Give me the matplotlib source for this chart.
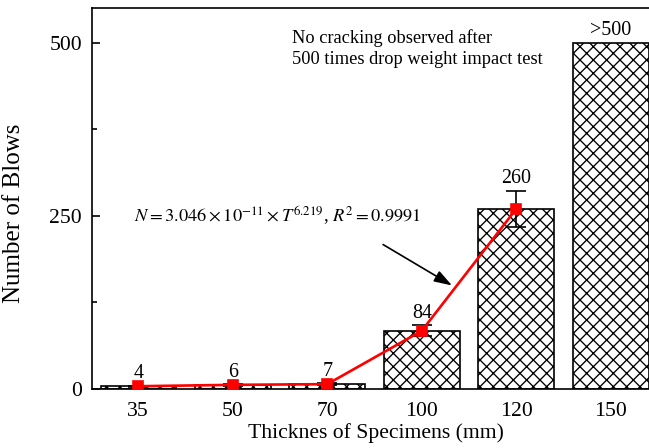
import matplotlib
matplotlib.use("Agg")
import matplotlib.pyplot as plt
import numpy as np

# data
thickness = ["35", "50", "70", "100", "120", "150"]
blows = [4, 6, 7, 84, 260, 500]
blow_err = [1, 1, 1, 8, 26, 0]
bar_labels = ["4", "6", "7", "84", "260", ">500"]
fit_idx = [0, 1, 2, 3, 4]   # red line only through cracked specimens

plt.rcParams["font.family"] = ["Liberation Serif", "DejaVu Serif"]
plt.rcParams["mathtext.fontset"] = "stix"
plt.rcParams["hatch.linewidth"] = 0.8

DPI = 120
fig = plt.figure(figsize=(649 / DPI, 448 / DPI), dpi=DPI)
ax = fig.add_axes([92 / 649, 59 / 448, 566 / 649, 381 / 448])

x = np.arange(len(thickness))
ax.bar(x, blows, width=0.8, color="white", edgecolor="black", linewidth=1.0,
       hatch="xxx", zorder=2)
ax.errorbar(x[:5], blows[:5], yerr=blow_err[:5], fmt="none", ecolor="black",
            elinewidth=1.0, capsize=6, capthick=1.0, zorder=3)

ax.plot(x[fit_idx], [blows[i] for i in fit_idx], color="red", lw=1.6,
        marker="s", markersize=6, zorder=4)

for xi, v, e, lab in zip(x, blows, blow_err, bar_labels):
    ax.annotate(lab, (xi, v + e), xytext=(0, 1.5), textcoords="offset points",
                ha="center", va="bottom", fontsize=12)

ax.text(1.63, 507, "No cracking observed after", fontsize=11, ha="left", va="center")
ax.text(1.63, 476, "500 times drop weight impact test", fontsize=11, ha="left", va="center")

ax.annotate("", xy=(3.35, 147), xytext=(2.56, 211),
            arrowprops=dict(arrowstyle="-|>,head_length=0.9,head_width=0.3",
                            color="black", lw=1.0))
ax.text(1.47, 251, r"$N = 3.046\times10^{-11}\times T^{6.219}$, $R^2 = 0.9991$",
        fontsize=11, ha="center", va="center")

ax.set_xlim(-0.49, 5.5)
ax.set_ylim(0, 550)
ax.set_xticks(x)
ax.set_xticklabels(thickness)
ax.set_yticks([0, 250, 500])
ax.set_yticks([125, 375], minor=True)
ax.tick_params(axis="y", which="major", direction="in", length=5, width=1, pad=6, labelsize=13)
ax.tick_params(axis="y", which="minor", direction="in", length=3, width=1)
ax.tick_params(axis="x", length=0, pad=8, labelsize=13)
for s in ax.spines.values():
    s.set_linewidth(1.0)

ax.set_ylabel("Number of Blows", fontsize=15)
ax.yaxis.set_label_coords((25 - 92) / 566, 0.462)
ax.set_xlabel("Thicknes of Specimens (mm)", fontsize=13)
ax.xaxis.set_label_coords((376 - 92) / 566, -(423 - 389) / 381)

fig.savefig("out.png", dpi=DPI)
